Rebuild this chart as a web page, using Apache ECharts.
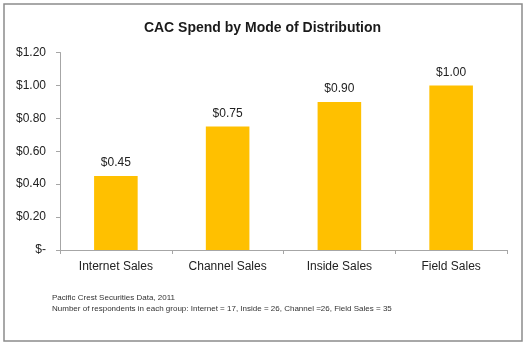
<!DOCTYPE html>
<html>
<head>
<meta charset="utf-8">
<script src="https://cdn.jsdelivr.net/npm/echarts@6/dist/echarts.min.js"></script>
<style>
  html, body { margin: 0; padding: 0; background: #fff; }
  #chart { width: 525px; height: 345px; }
</style>
</head>
<body>
<div id="chart"></div>
<script>
// Cost of customer acquisition by distribution channel
const categories = ['Internet Sales', 'Channel Sales', 'Inside Sales', 'Field Sales'];
const spend = [0.45, 0.75, 0.90, 1.00];
const yMax = 1.2;
const yStep = 0.2;
const titleText = 'CAC Spend by Mode of Distribution';
const noteLines = [
  'Pacific Crest Securities Data, 2011',
  'Number of respondents in each group: Internet = 17, Inside = 26, Channel =26, Field Sales = 35'
];

const money = v => (Math.abs(v) < 1e-9 ? '$-' : '$' + v.toFixed(2));
const FONT = 'Liberation Sans, Arial, sans-serif';

const chart = echarts.init(document.getElementById('chart'), null, { renderer: 'canvas' });
chart.setOption({
  animation: false,
  backgroundColor: '#ffffff',
  title: {
    text: titleText,
    left: 'center',
    top: 16,
    textStyle: { fontFamily: FONT, fontSize: 14, fontWeight: 'bold', color: '#1a1a1a' }
  },
  grid: { left: 60, right: 18, top: 52.5, bottom: 95, containLabel: false },
  xAxis: {
    type: 'category',
    data: categories,
    axisLine: { lineStyle: { color: '#a6a6a6', width: 1 } },
    axisTick: { show: true, alignWithLabel: false, length: 4, lineStyle: { color: '#a6a6a6' } },
    axisLabel: { fontFamily: FONT, fontSize: 12, color: '#222', margin: 11 }
  },
  yAxis: {
    type: 'value',
    min: 0,
    max: yMax,
    interval: yStep,
    splitLine: { show: false },
    axisLine: { show: true, lineStyle: { color: '#a6a6a6', width: 1 } },
    axisTick: { show: true, length: 4, lineStyle: { color: '#a6a6a6' } },
    axisLabel: {
      fontFamily: FONT, fontSize: 12, color: '#222', margin: 14,
      formatter: v => money(v)
    }
  },
  series: [{
    type: 'bar',
    data: spend,
    barWidth: '39%',
    itemStyle: { color: '#FFC000' },
    label: {
      show: true,
      position: 'top',
      distance: 7,
      fontFamily: FONT,
      fontSize: 12,
      color: '#222',
      formatter: p => money(p.value)
    }
  }],
  graphic: [
    {
      type: 'rect',
      shape: { x: 4, y: 4, width: 518, height: 337 },
      style: { fill: 'none', stroke: '#8c8c8c', lineWidth: 1.5 },
      silent: true
    },
    {
      type: 'text',
      left: 52,
      top: 294,
      style: { text: noteLines[0], fontFamily: FONT, fontSize: 8, fill: '#333' }
    },
    {
      type: 'text',
      left: 52,
      top: 305,
      style: { text: noteLines[1], fontFamily: FONT, fontSize: 8, fill: '#333' }
    }
  ]
});
</script>
</body>
</html>
